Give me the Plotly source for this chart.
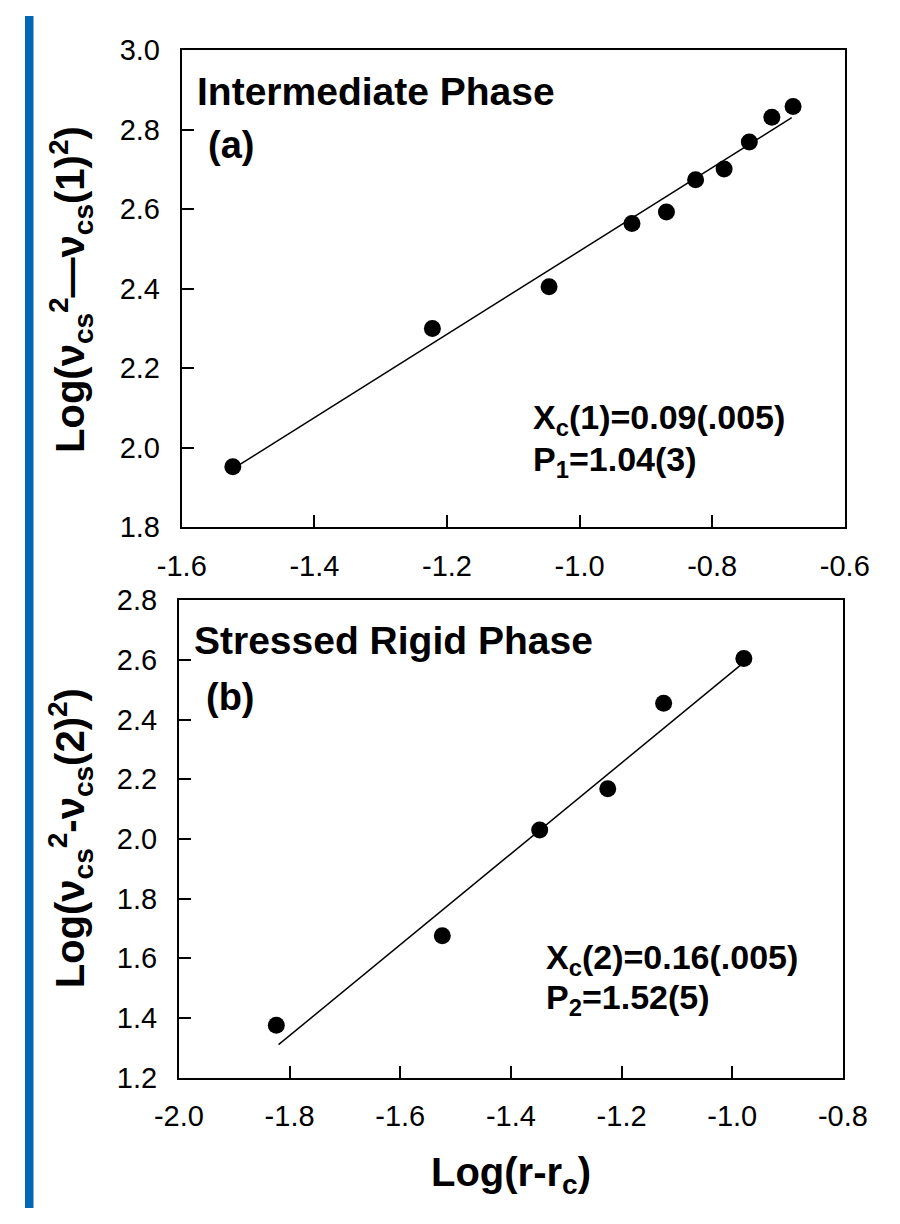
import plotly.graph_objects as go

# ---- data: panel (a) Intermediate phase ----
a_x = [-1.523, -1.222, -1.046, -0.921, -0.869, -0.825, -0.782, -0.744, -0.710, -0.678]
a_y = [1.952, 2.300, 2.405, 2.564, 2.593, 2.674, 2.701, 2.769, 2.831, 2.858]
a_fit_x = [-1.52, -0.68]
a_fit_y = [1.95, 2.83]

# ---- data: panel (b) Stressed rigid phase ----
b_x = [-1.824, -1.524, -1.348, -1.225, -1.124, -0.979]
b_y = [1.375, 1.675, 2.030, 2.168, 2.455, 2.605]
b_fit_x = [-1.82, -0.98]
b_fit_y = [1.31, 2.59]

# ---- tick labels ----
a_xticks = [-1.6, -1.4, -1.2, -1.0, -0.8, -0.6]
a_xticktext = ["-1.6", "-1.4", "-1.2", "-1.0", "-0.8", "-0.6"]
a_yticks = [1.8, 2.0, 2.2, 2.4, 2.6, 2.8, 3.0]
a_yticktext = ["1.8", "2.0", "2.2", "2.4", "2.6", "2.8", "3.0"]
b_xticks = [-2.0, -1.8, -1.6, -1.4, -1.2, -1.0, -0.8]
b_xticktext = ["-2.0", "-1.8", "-1.6", "-1.4", "-1.2", "-1.0", "-0.8"]
b_yticks = [1.2, 1.4, 1.6, 1.8, 2.0, 2.2, 2.4, 2.6, 2.8]
b_yticktext = ["1.2", "1.4", "1.6", "1.8", "2.0", "2.2", "2.4", "2.6", "2.8"]

FONT = "Liberation Sans, Arial, sans-serif"
W, H = 900, 1224

fig = go.Figure()
marker = dict(color="black", size=17)
line = dict(color="black", width=1.5)

fig.add_trace(go.Scatter(x=a_fit_x, y=a_fit_y, mode="lines", line=line, xaxis="x", yaxis="y", showlegend=False))
fig.add_trace(go.Scatter(x=a_x, y=a_y, mode="markers", marker=marker, xaxis="x", yaxis="y", showlegend=False))
fig.add_trace(go.Scatter(x=b_fit_x, y=b_fit_y, mode="lines", line=line, xaxis="x2", yaxis="y2", showlegend=False))
fig.add_trace(go.Scatter(x=b_x, y=b_y, mode="markers", marker=marker, xaxis="x2", yaxis="y2", showlegend=False))

tickfont = dict(family=FONT, size=29, color="black")
common = dict(showgrid=False, zeroline=False, showline=True, linecolor="black", linewidth=2,
              mirror=True, ticks="inside", ticklen=12, tickwidth=1.5, tickcolor="black",
              tickfont=tickfont)

def px_x(p):
    return p / W

def px_y(p):
    return 1 - p / H

fig.update_layout(
    width=W, height=H,
    margin=dict(l=0, r=0, t=0, b=0),
    paper_bgcolor="white", plot_bgcolor="white",
    xaxis=dict(domain=[px_x(166), px_x(868)], range=[-1.6, -0.6], tickvals=a_xticks,
               ticktext=a_xticktext, anchor="y", ticklabelstandoff=12, **common),
    yaxis=dict(domain=[px_y(525), px_y(35)], range=[1.8, 3.0], tickvals=a_yticks,
               ticktext=a_yticktext, anchor="x", ticklabelstandoff=14, **common),
    xaxis2=dict(domain=[px_x(163), px_x(866)], range=[-2.0, -0.8], tickvals=b_xticks,
                ticktext=b_xticktext, anchor="y2", ticklabelstandoff=12, **common),
    yaxis2=dict(domain=[px_y(1090), px_y(600)], range=[1.2, 2.8], tickvals=b_yticks,
                ticktext=b_yticktext, anchor="x2", ticklabelstandoff=14, **common),
    shapes=[dict(type="rect", xref="paper", yref="paper", x0=0, x1=px_x(9), y0=0, y1=1,
                 fillcolor="#0067B4", line=dict(width=0), layer="above")],
)

bold = lambda s: dict(family=FONT, size=s, color="black")
ann = []

def add_text(text, x, y, size, xanchor="left", angle=0):
    ann.append(dict(text=text, x=px_x(x), y=px_y(y), xref="paper", yref="paper",
                    xanchor=xanchor, yanchor="middle", showarrow=False, textangle=angle,
                    font=bold(size)))

add_text("<b>Intermediate Phase</b>", 180, 78, 39)
add_text("<b>(a)</b>", 192, 132, 38)
add_text("<b>X<sub>c</sub>(1)=0.09(.005)</b>", 536, 414, 34)
add_text("<b>P<sub>1</sub>=1.04(3)</b>", 536, 457, 34)
add_text("<b>Stressed Rigid Phase</b>", 177, 641, 39)
add_text("<b>(b)</b>", 190, 699, 38)
add_text("<b>X<sub>c</sub>(2)=0.16(.005)</b>", 550, 969, 34)
add_text("<b>P<sub>2</sub>=1.52(5)</b>", 550, 1010, 34)
add_text("<b>Log(ν<sub>cs</sub><sup>2</sup>—ν<sub>cs</sub>(1)<sup>2</sup>)</b>", 48, 281, 40, xanchor="center", angle=-90)
add_text("<b>Log(ν<sub>cs</sub><sup>2</sup>-ν<sub>cs</sub>(2)<sup>2</sup>)</b>", 48, 844, 40, xanchor="center", angle=-90)
add_text("<b>Log(r-r<sub>c</sub>)</b>", 515, 1190, 40, xanchor="center")

fig.update_layout(annotations=ann)
fig.write_html("out.html", config={"displayModeBar": False},
               post_script="document.body.style.margin='0';document.body.style.overflow='hidden';")
